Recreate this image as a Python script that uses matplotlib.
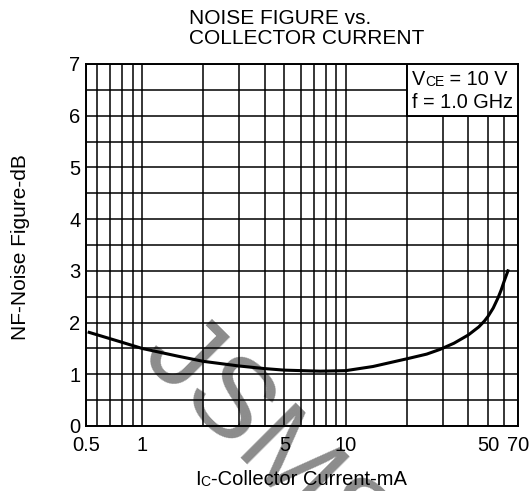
import numpy as np
import matplotlib.pyplot as plt
from matplotlib.patches import Rectangle

plt.rcParams['font.family'] = ['Liberation Sans', 'DejaVu Sans']

# Noise figure curve
ic_ma = [0.55, 0.78, 1, 1.5, 2, 3, 4, 5, 7.5, 10, 13.6, 20, 25, 29, 34, 40, 45, 48, 50, 53,
         56, 58, 60, 62.6]
nf_db = [1.81, 1.63, 1.50, 1.35, 1.25, 1.16, 1.11, 1.08, 1.06, 1.07, 1.15, 1.30, 1.39, 1.48,
         1.60, 1.76, 1.915, 2.03, 2.12, 2.28, 2.48, 2.63, 2.80, 3.0]

x_major = [0.53, 1, 5, 10, 50, 70]
x_major_labels = ['0.5', '1', '5', '10', '50', '70']
x_minor = [0.6, 0.7, 0.8, 0.9, 2, 3, 4, 6, 7, 8, 9, 20, 30, 40, 60]
y_major = [0, 1, 2, 3, 4, 5, 6, 7]
y_minor = [0.5, 1.5, 2.5, 3.5, 4.5, 5.5, 6.5]

fig = plt.figure(figsize=(5.30, 4.91), dpi=100, facecolor='w')
ax = fig.add_axes([0.162, 0.1324, 0.815, 0.7373])
ax.set_axisbelow(True)

ax.plot(ic_ma, nf_db, color='k', lw=2.2, zorder=3)

ax.set_xscale('log')
ax.set_xlim(0.53, 70)
ax.set_ylim(0, 7)
ax.set_xticks(x_major)
ax.set_xticklabels(x_major_labels)
ax.set_xticks(x_minor, minor=True)
ax.set_xticklabels([], minor=True)
ax.set_yticks(y_major)
ax.set_yticks(y_minor, minor=True)
ax.tick_params(which='both', length=0, labelsize=14.5, colors='k')
ax.tick_params(axis='x', pad=7.5)
ax.tick_params(axis='y', pad=4)
ax.grid(True, which='both', color='k', lw=1.1)
for s in ax.spines.values():
    s.set_linewidth(1.4)

fig.text(0.038, 0.497, 'NF-Noise Figure-dB', fontsize=15, rotation=90,
         ha='center', va='center')

# x label: "I" with a small "C"
t1 = fig.text(0.368, 0.0122, 'I', fontsize=14.5, ha='left', va='baseline')
t2 = ax.annotate('C', xy=(1, 0), xycoords=t1, fontsize=10, ha='left', va='bottom',
                 annotation_clip=False)
ax.annotate('-Collector Current-mA', xy=(1, 0), xycoords=t2, fontsize=14.5,
            ha='left', va='bottom', annotation_clip=False)

fig.text(0.357, 0.910, 'NOISE FIGURE vs.\nCOLLECTOR CURRENT', fontsize=15,
         ha='left', va='baseline', linespacing=1.1)

# conditions box
ax.add_patch(Rectangle((20, 6), 50, 1, facecolor='w', edgecolor='k', lw=1.4, zorder=4))
v1 = ax.text(0.777, 0.827, 'V', transform=fig.transFigure, fontsize=14.3, zorder=5,
             ha='left', va='baseline')
v2 = ax.annotate('CE', xy=(1, 0), xycoords=v1, fontsize=10, ha='left', va='bottom',
                 zorder=5)
ax.annotate(' = 10 V', xy=(1, 0), xycoords=v2, fontsize=14.3, ha='left', va='bottom',
            zorder=5)
ax.text(0.777, 0.780, 'f = 1.0 GHz', transform=fig.transFigure, fontsize=14.3, zorder=5,
        ha='left', va='baseline')

# watermark
ax.text(0.262, 0.27, 'JSMSEMI', transform=fig.transFigure, rotation=-45,
        rotation_mode='anchor', ha='left', va='baseline', fontsize=82,
        color='#8c8c8c', zorder=0.2, clip_on=False)

fig.savefig('out.png', dpi=100)
